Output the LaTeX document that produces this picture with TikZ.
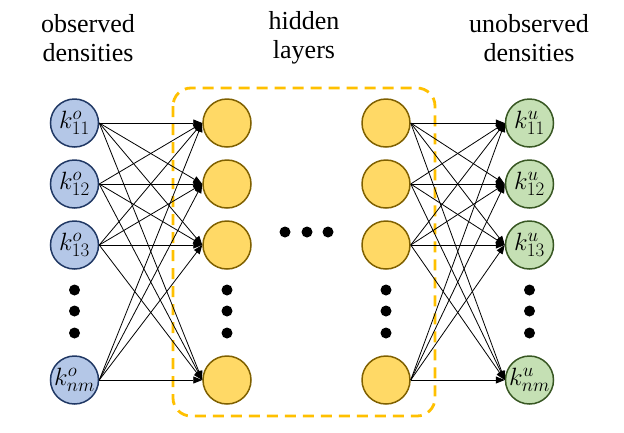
\RequirePackage{fix-cm}
\documentclass[tikz,border=0pt]{standalone}
\usepackage{fontspec}
\setmainfont{Liberation Serif}
\DeclareMathSizes{25}{25}{19}{14}
\usetikzlibrary{arrows.meta}
\definecolor{obsfill}{HTML}{B4C7E7}
\definecolor{obsdraw}{HTML}{203864}
\definecolor{hidfill}{HTML}{FFD966}
\definecolor{hiddraw}{HTML}{7F6000}
\definecolor{unofill}{HTML}{C5E0B4}
\definecolor{unodraw}{HTML}{385723}
\definecolor{boxcol}{HTML}{FFC000}
\tikzset{
  neuron/.style={circle, minimum size=48pt, inner sep=0pt, line width=1.5pt,
    font=\fontsize{25}{30}\selectfont},
  obs/.style={neuron, fill=obsfill, draw=obsdraw},
  hid/.style={neuron, fill=hidfill, draw=hiddraw},
  uno/.style={neuron, fill=unofill, draw=unodraw},
  bigdot/.style={circle, fill=black, inner sep=0pt, minimum size=11pt},
  conn/.style={line width=0.8pt, -{Triangle[length=9pt,width=7pt]}},
  title/.style={align=center, font=\fontsize{26}{29}\selectfont},
  hiddenbox/.style={draw=boxcol, line width=2.8pt, rounded corners=18pt,
    dash pattern=on 11pt off 7pt}
}
\begin{document}
\begin{tikzpicture}[x=1pt,y=-1pt]
\useasboundingbox (0,0) rectangle (624,432);
% titles
\node[title] (t1) at (88,38) {observed\\densities};
\node[title] (t2) at (304,38) {hidden\\layers};
\node[title] (t3) at (529,38) {unobserved\\densities};
% dashed box
\draw[hiddenbox] (173,88) rectangle (435,416);
% observed
\node[obs] (o1) at (74.5,123) {$k^{o}_{11}$};
\node[obs] (o2) at (74.5,184) {$k^{o}_{12}$};
\node[obs] (o3) at (74.5,245) {$k^{o}_{13}$};
\node[obs] (o4) at (74.5,380) {$k^{o}_{nm}$};
% hidden 1
\node[hid] (a1) at (227,123) {};
\node[hid] (a2) at (227,184) {};
\node[hid] (a3) at (227,245) {};
\node[hid] (a4) at (227,380) {};
% hidden 2
\node[hid] (b1) at (386,123) {};
\node[hid] (b2) at (386,184) {};
\node[hid] (b3) at (386,245) {};
\node[hid] (b4) at (386,380) {};
% unobserved
\node[uno] (u1) at (529.5,123) {$k^{u}_{11}$};
\node[uno] (u2) at (529.5,184) {$k^{u}_{12}$};
\node[uno] (u3) at (529.5,245) {$k^{u}_{13}$};
\node[uno] (u4) at (529.5,380) {$k^{u}_{nm}$};
% vertical dots
\foreach \x/\n in {74.5/o,227/a,386/b,529.5/u}{
  \node[bigdot] (\n d1) at (\x,290) {};
  \node[bigdot] (\n d2) at (\x,311) {};
  \node[bigdot] (\n d3) at (\x,333) {};
}
% horizontal dots
\node[bigdot] (h1) at (285,232) {};
\node[bigdot] (h2) at (307,232) {};
\node[bigdot] (h3) at (328,232) {};
% connections
\foreach \i in {1,2,3,4}{
  \foreach \j in {1,2,3,4}{
    \draw[conn] (o\i.east) -- (a\j.west);
    \draw[conn] (b\i.east) -- (u\j.west);
  }
}
\end{tikzpicture}
\end{document}
